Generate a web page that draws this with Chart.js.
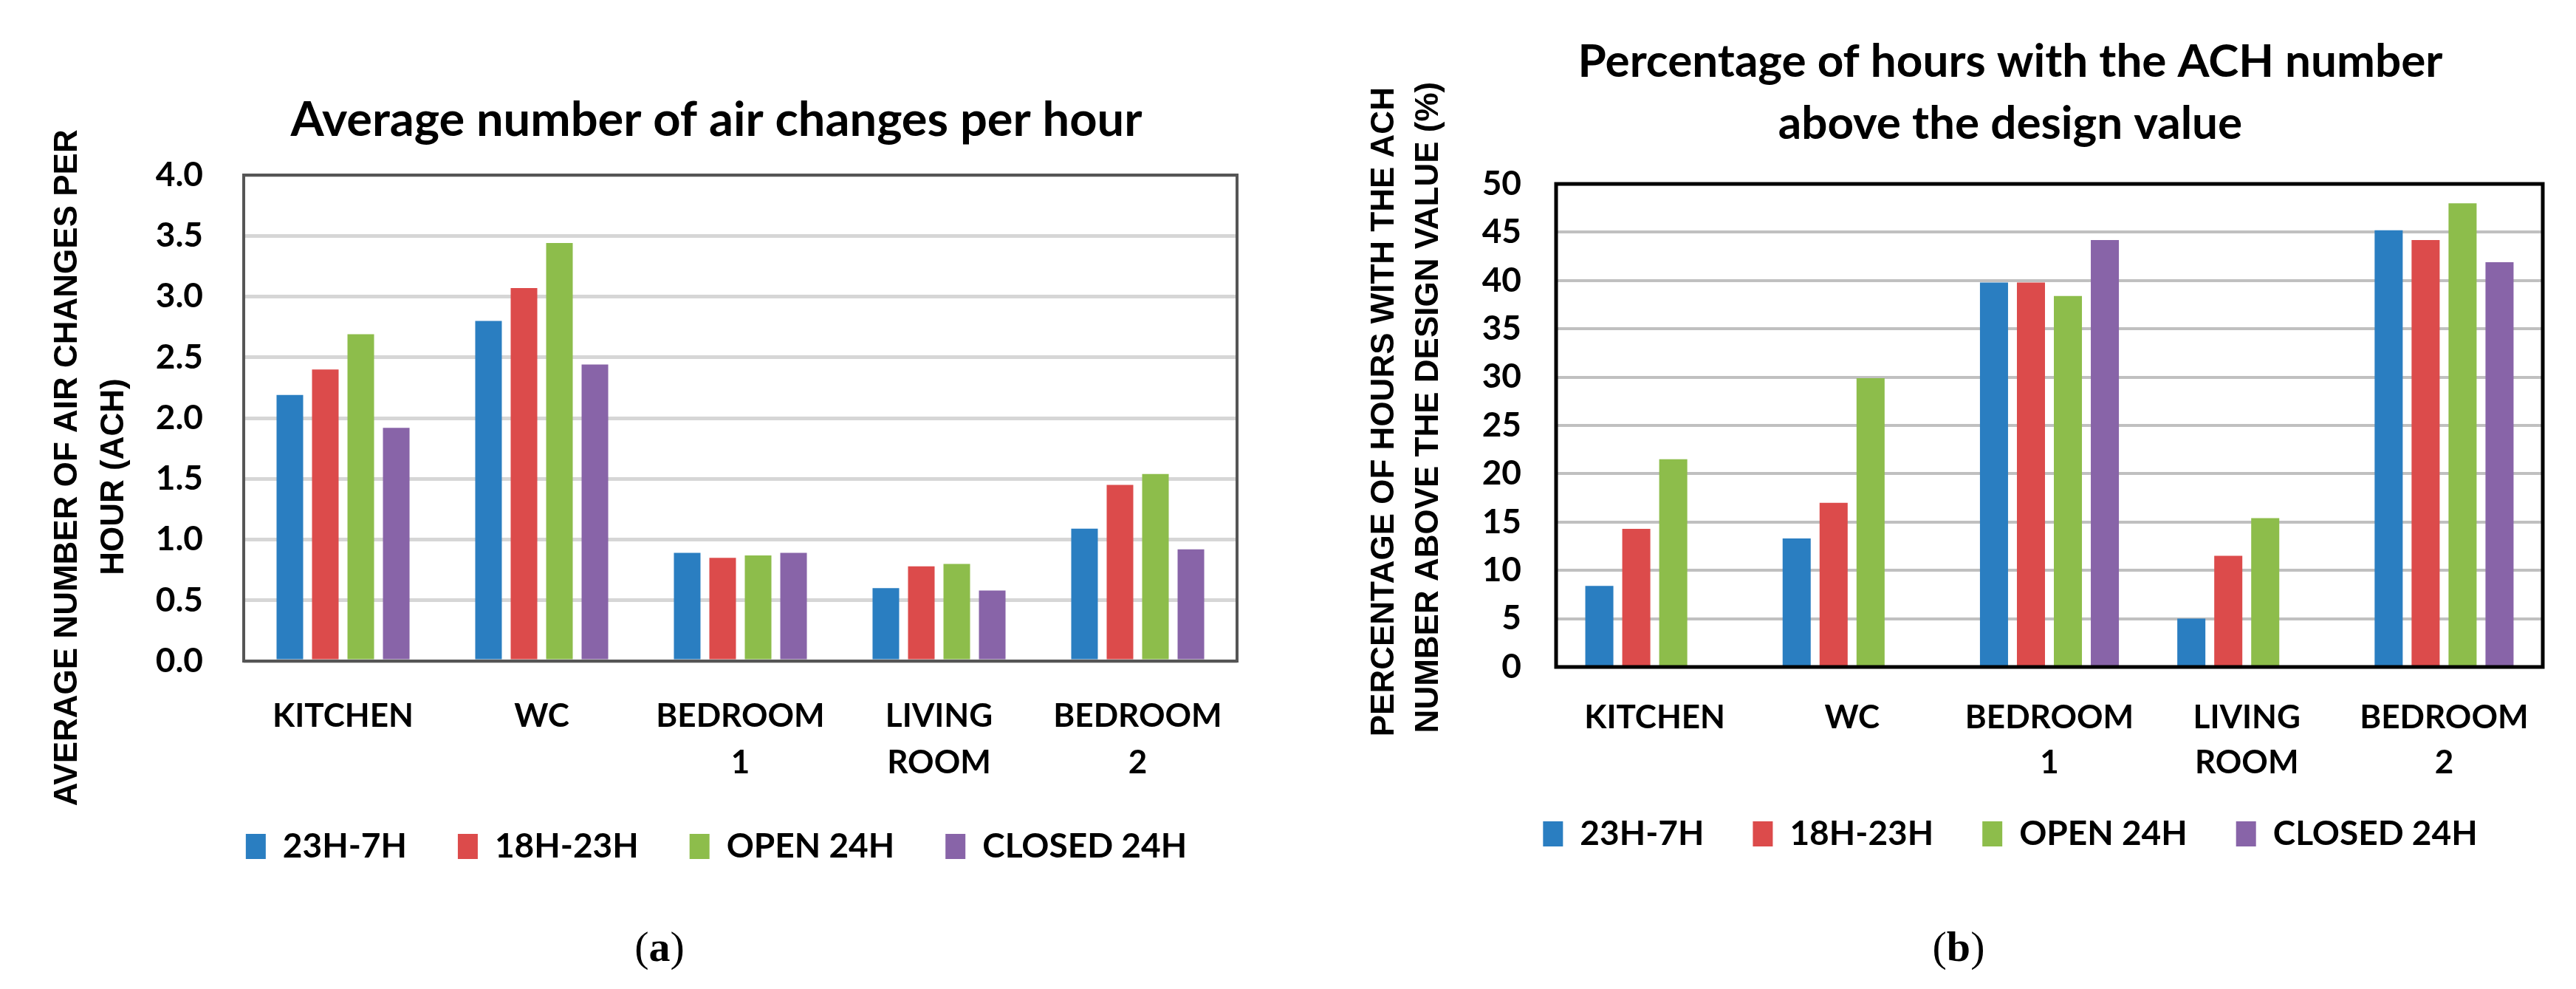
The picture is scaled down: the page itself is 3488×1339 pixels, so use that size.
<!DOCTYPE html>
<html><head><meta charset="utf-8">
<script src="https://cdn.jsdelivr.net/npm/chart.js@4.4.1/dist/chart.umd.min.js"></script>
<style>
html,body{margin:0;padding:0;background:#fff;overflow:hidden;width:3488px;height:1339px;position:relative;}
canvas{position:absolute;top:0;}
#cl{left:0px}
#cr{left:1790px}
.lab{position:absolute;top:1247px;font-family:"Liberation Serif",serif;font-size:58px;line-height:70px;color:#000;transform:translateX(-50%);white-space:nowrap}
</style></head><body>
<canvas id="cl" width="1940" height="1339"></canvas>
<canvas id="cr" width="1864" height="1339"></canvas>
<div class="lab" style="left:893px">(<b>a</b>)</div>
<div class="lab" style="left:2652px">(<b>b</b>)</div>
<script>
// ---------- data ----------
const categories = [['KITCHEN'], ['WC'], ['BEDROOM', '1'], ['LIVING', 'ROOM'], ['BEDROOM', '2']];
const seriesNames = ['23H-7H', '18H-23H', 'OPEN 24H', 'CLOSED 24H'];
const seriesColors = ['#2a7ec1', '#dc4b4b', '#8dbd4b', '#8864a8'];

// (a) Average number of air changes per hour
const ach_23H_7H    = [2.19, 2.80, 0.89, 0.60, 1.09];
const ach_18H_23H   = [2.40, 3.07, 0.85, 0.78, 1.45];
const ach_open24H   = [2.69, 3.44, 0.87, 0.80, 1.54];
const ach_closed24H = [1.92, 2.44, 0.89, 0.58, 0.92];
const achTickLabels = ['0.0', '0.5', '1.0', '1.5', '2.0', '2.5', '3.0', '3.5', '4.0'];

// (b) Percentage of hours with ACH above the design value
const pct_23H_7H    = [8.4, 13.3, 39.8, 5.0, 45.2];
const pct_18H_23H   = [14.3, 17.0, 39.8, 11.5, 44.2];
const pct_open24H   = [21.5, 29.9, 38.4, 15.4, 48.0];
const pct_closed24H = [null, null, 44.2, null, 41.9];
const pctTickLabels = ['0', '5', '10', '15', '20', '25', '30', '35', '40', '45', '50'];

const titleA = 'Average number of air changes per hour';
const titleB = ['Percentage of hours with the ACH number', 'above the design value'];
const yTitleA = ['AVERAGE NUMBER OF AIR CHANGES PER', 'HOUR (ACH)'];
const yTitleB = ['PERCENTAGE OF HOURS WITH THE ACH', 'NUMBER ABOVE THE DESIGN VALUE (%)'];

// ---------- helpers ----------
function frame(color, width) {
  return {
    id: 'frame',
    afterDraw(c) {
      const a = c.chartArea, ctx = c.ctx;
      ctx.save();
      ctx.strokeStyle = color;
      ctx.lineWidth = width;
      ctx.strokeRect(a.left, a.top, a.right - a.left, a.bottom - a.top);
      ctx.restore();
    }
  };
}
function datasets(values, catPct, barPct) {
  return values.map((v, i) => ({
    label: seriesNames[i],
    data: v,
    backgroundColor: seriesColors[i],
    borderWidth: 0,
    categoryPercentage: catPct,
    barPercentage: barPct
  }));
}
const tickFont = {family: 'Lato', weight: 'bold', size: 46};
const axisTitleFont = (lh) => ({family: 'Liberation Sans', weight: 'bold', size: 44, lineHeight: lh});

function makeChart(id, cfg) {
  return new Chart(document.getElementById(id), {
    type: 'bar',
    data: {labels: categories, datasets: cfg.datasets},
    plugins: [frame(cfg.frameColor, cfg.frameWidth)],
    options: {
      responsive: false,
      animation: false,
      devicePixelRatio: 1,
      layout: {padding: {left: 0, right: 0, top: 0, bottom: cfg.padBottom}},
      plugins: {
        tooltip: {enabled: false},
        title: {
          display: true,
          text: cfg.title,
          color: '#000',
          font: {family: 'Lato', weight: 'bold', size: cfg.titleSize, lineHeight: cfg.titleLH},
          padding: {top: cfg.titlePadTop, bottom: cfg.titlePadBottom}
        },
        legend: {
          position: 'bottom',
          fullSize: true,
          labels: {
            color: '#000',
            font: {family: 'Lato', weight: 'bold', size: 46},
            boxWidth: 27,
            boxHeight: 34,
            padding: cfg.legendPad
          }
        }
      },
      scales: {
        x: {
          grid: {display: false, drawTicks: false},
          border: {display: false},
          ticks: {
            color: '#000',
            padding: cfg.xPad,
            maxRotation: 0,
            autoSkip: false,
            font: {family: 'Lato', weight: 'bold', size: 44, lineHeight: cfg.xLH}
          },
          afterFit(s) {
            s.height = cfg.xHeight;
            s._computeLabelArea = () => undefined; // let two-line labels run past the axis box
          }
        },
        y: {
          min: 0,
          max: cfg.yMax,
          grid: {color: cfg.gridColor, lineWidth: cfg.gridWidth, drawTicks: false},
          border: {display: false},
          ticks: {
            stepSize: cfg.yStep,
            color: '#000',
            padding: cfg.yPad,
            font: tickFont,
            callback: (v, i) => cfg.tickLabels[i]
          },
          title: {
            display: true,
            text: cfg.yTitle,
            color: '#000',
            font: axisTitleFont(cfg.yTitleLH),
            padding: {top: cfg.yTitlePadTop, bottom: 0}
          },
          afterFit(s) { s.width = cfg.yWidth; }
        },
        pad: {
          type: 'linear',
          position: 'right',
          display: true,
          grid: {display: false, drawTicks: false},
          border: {display: false},
          ticks: {display: false},
          afterFit(s) { s.width = cfg.padRight; }
        }
      }
    }
  });
}

makeChart('cl', {
  datasets: datasets([ach_23H_7H, ach_18H_23H, ach_open24H, ach_closed24H], 0.714, 0.75),
  frameColor: '#555555', frameWidth: 4,
  gridColor: '#d6d6d6', gridWidth: 5,
  title: titleA, titleSize: 65, titleLH: 1.2, titlePadTop: 124, titlePadBottom: 35,
  legendPad: 69, padBottom: 160,
  xPad: 43.5, xLH: 1.43, xHeight: 159,
  yMax: 4, yStep: 0.5, tickLabels: achTickLabels, yPad: 55,
  yTitle: [yTitleA[0] + ' '.repeat(11), yTitleA[1] + ' '.repeat(13)],
  yTitleLH: 1.43, yTitlePadTop: 60.5, yWidth: 330, padRight: 265
});

makeChart('cr', {
  datasets: datasets([pct_23H_7H, pct_18H_23H, pct_open24H, pct_closed24H], 0.749, 0.76),
  frameColor: '#000000', frameWidth: 5,
  gridColor: '#c0c0c0', gridWidth: 4,
  title: titleB, titleSize: 62, titleLH: 1.355, titlePadTop: 42, titlePadBottom: 39,
  legendPad: 66, padBottom: 177,
  xPad: 38.5, xLH: 1.386, xHeight: 137,
  yMax: 50, yStep: 5, tickLabels: pctTickLabels, yPad: 47,
  yTitle: [' '.repeat(3) + yTitleB[0], ' '.repeat(4) + yTitleB[1]],
  yTitleLH: 1.36, yTitlePadTop: 55, yWidth: 317, padRight: 211
});
</script>
</body></html>
